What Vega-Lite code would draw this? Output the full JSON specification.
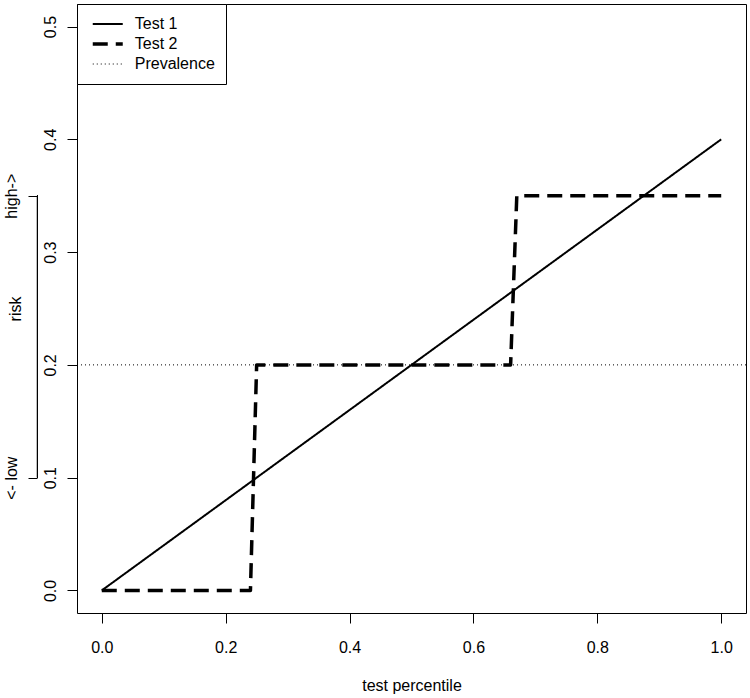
{
  "$schema": "https://vega.github.io/schema/vega-lite/v6.json",
  "width": 669,
  "height": 609,
  "autosize": {"type": "none"},
  "padding": {"left": 77, "top": 4, "right": 4, "bottom": 85},
  "background": "white",
  "config": {
    "view": {"stroke": "black", "strokeWidth": 1},
    "font": "Liberation Sans",
    "axis": {"grid": false, "domain": false, "tickColor": "black", "labelColor": "black", "titleColor": "black", "labelFontSize": 16, "titleFontSize": 16, "titleFontWeight": "normal", "tickSize": 10, "labelFont": "Liberation Sans", "titleFont": "Liberation Sans"},
    "legend": {"labelFont": "Liberation Sans", "labelColor": "black"}
  },
  "data": {"values": [
    {"series": "Test 1", "x": 0, "y": 0},
    {"series": "Test 1", "x": 1, "y": 0.4},
    {"series": "Test 2", "x": 0, "y": 0},
    {"series": "Test 2", "x": 0.24, "y": 0},
    {"series": "Test 2", "x": 0.25, "y": 0.2},
    {"series": "Test 2", "x": 0.66, "y": 0.2},
    {"series": "Test 2", "x": 0.67, "y": 0.35},
    {"series": "Test 2", "x": 1, "y": 0.35},
    {"series": "Prevalence", "x": -0.04, "y": 0.2},
    {"series": "Prevalence", "x": 1.04, "y": 0.2}
  ]},
  "layer": [
    {
      "mark": {"type": "line", "color": "black", "strokeJoin": "round"},
      "encoding": {
        "x": {"field": "x", "type": "quantitative", "scale": {"domain": [-0.04, 1.04], "nice": false, "zero": false}, "axis": {"values": [0, 0.2, 0.4, 0.6, 0.8, 1], "format": ".1f", "title": "test percentile", "labelPadding": 16, "titlePadding": 22}},
        "y": {"field": "y", "type": "quantitative", "scale": {"domain": [-0.02, 0.52], "nice": false, "zero": false}, "axis": {"values": [0, 0.1, 0.2, 0.3, 0.4, 0.5], "format": ".1f", "title": null, "labelAngle": -90, "labelAlign": "center", "labelBaseline": "alphabetic", "labelPadding": 12}},
        "strokeDash": {"field": "series", "type": "nominal", "scale": {"domain": ["Test 1", "Test 2", "Prevalence"], "range": [[1, 0], [15, 8], [1, 3]]}, "legend": {"title": null, "orient": "top-left", "offset": 0, "strokeColor": "black", "fillColor": "white", "padding": 10.25, "symbolType": "stroke", "symbolSize": 900, "symbolStrokeColor": "black", "labelFontSize": 16, "labelOffset": 10, "rowPadding": 0, "clipHeight": 19.5, "symbolOffset": 3.5}},
        "strokeWidth": {"field": "series", "type": "nominal", "scale": {"type": "ordinal", "domain": ["Test 1", "Test 2", "Prevalence"], "range": [2, 3.5, 1]}, "legend": {"title": null, "orient": "top-left", "offset": 0, "strokeColor": "black", "fillColor": "white", "padding": 10.25, "symbolType": "stroke", "symbolSize": 900, "symbolStrokeColor": "black", "labelFontSize": 16, "labelOffset": 10, "rowPadding": 0, "clipHeight": 19.5, "symbolOffset": 3.5}}
      }
    },
    {
      "mark": {"type": "rule", "color": "black", "strokeWidth": 1},
      "encoding": {
        "x": {"datum": -0.1038, "type": "quantitative", "scale": {"domain": [-0.04, 1.04], "nice": false, "zero": false}, "axis": {"values": [0, 0.2, 0.4, 0.6, 0.8, 1], "format": ".1f", "title": "test percentile", "labelPadding": 16, "titlePadding": 22}},
        "y": {"datum": 0.1, "type": "quantitative", "scale": {"domain": [-0.02, 0.52], "nice": false, "zero": false}, "axis": {"orient": "left", "offset": 40, "values": [0.1, 0.35], "labelExpr": "datum.value < 0.2 ? '<- low' : 'high->'", "title": "risk", "tickSize": 9, "labelAngle": -90, "labelAlign": "center", "labelBaseline": "alphabetic", "labelPadding": 12, "titleAngle": -90, "titleAlign": "center", "titleBaseline": "alphabetic", "titleX": -16.5, "titleY": 304.5}},
        "y2": {"datum": 0.35}
      }
    }
  ],
  "resolve": {"axis": {"y": "independent"}}
}
